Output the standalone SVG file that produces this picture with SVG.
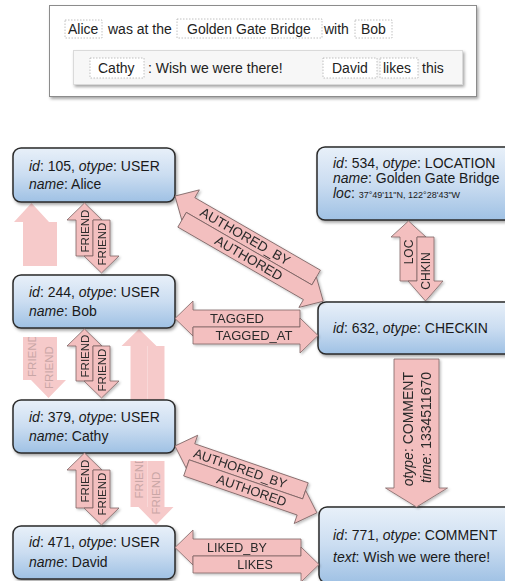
<svg xmlns="http://www.w3.org/2000/svg" width="505" height="581" viewBox="0 0 505 581">
<defs>
<linearGradient id="nodeGrad" x1="0" y1="0" x2="0" y2="1">
<stop offset="0" stop-color="#e8f0f9"/>
<stop offset="0.5" stop-color="#cbddf1"/>
<stop offset="1" stop-color="#9fc1e4"/>
</linearGradient>
<filter id="shadow" x="-10%" y="-10%" width="130%" height="140%">
<feDropShadow dx="1.5" dy="2" stdDeviation="1.5" flood-color="#000" flood-opacity="0.35"/>
</filter>
<filter id="ashadow" x="-10%" y="-10%" width="130%" height="130%">
<feDropShadow dx="1.5" dy="1.5" stdDeviation="1" flood-color="#000" flood-opacity="0.25"/>
</filter>
<clipPath id="clipFA"><rect x="0" y="200" width="80" height="66"/><rect x="0" y="337" width="80" height="64"/></clipPath>
<clipPath id="clipFB"><rect x="110" y="326" width="80" height="75"/><rect x="110" y="461" width="80" height="67"/></clipPath>
</defs>
<style>
.t{font-family:"Liberation Sans",Arial,sans-serif;fill:#222}
.nt{font-family:"Liberation Sans",Arial,sans-serif;font-size:14px;fill:#1a1a1a}
.node{fill:url(#nodeGrad);stroke:#2a2a2a;stroke-width:1.5;filter:url(#shadow)}
.arr{fill:#f3bfbf;stroke:#7d6464;stroke-width:0.8}
.fad{fill:#f6caca;stroke:none}
.al{font-family:"Liberation Sans",Arial,sans-serif;fill:#2a2a2a;text-anchor:middle;dominant-baseline:central}
.fl{font-family:"Liberation Sans",Arial,sans-serif;fill:#c9a6a6;text-anchor:middle;dominant-baseline:central;font-size:11.5px}
.box{fill:#fff;stroke:#b0b0b0;stroke-width:0.8;stroke-dasharray:1.5 1.5}
</style>

<g id="story">
<rect x="49.5" y="5.5" width="427" height="91" fill="#fff" stroke="#8c8c8c" stroke-width="1" filter="url(#shadow)"/>
<rect x="73.5" y="50.5" width="389" height="34" fill="#f7f7f7" stroke="#dadada" stroke-width="1" filter="url(#shadow)"/>
<rect class="box" x="65" y="20" width="37" height="18"/>
<rect class="box" x="177" y="19" width="145" height="19"/>
<rect class="box" x="355" y="20" width="37" height="18"/>
<rect class="box" x="90" y="58" width="54" height="20"/>
<rect class="box" x="323" y="58" width="54" height="20"/>
<rect class="box" x="380" y="58" width="38" height="20"/>
<text class="t" font-size="14" x="68" y="34">Alice</text>
<text class="t" font-size="14" x="108" y="34">was at the</text>
<text class="t" font-size="14" x="187" y="34">Golden Gate Bridge</text>
<text class="t" font-size="14" x="324" y="34">with</text>
<text class="t" font-size="14" x="361" y="34">Bob</text>
<text class="t" font-size="14" x="98" y="73">Cathy</text>
<text class="t" font-size="14" x="148" y="73">: Wish we were there!</text>
<text class="t" font-size="14" x="332" y="73">David</text>
<text class="t" font-size="14" x="383" y="73">likes</text>
<text class="t" font-size="14" x="422" y="73">this</text>
</g>

<g id="connectors-faded">
<g clip-path="url(#clipFA)">
<path class="fad" d="M31.5,203 L49,222 L40,222 L40,380 L23,380 L23,222 L14,222 Z"/>
<path class="fad" d="M40,222 L57,222 L57,380 L66,380 L48.5,398 L31,380 L40,380 Z"/>
<text class="fl" transform="translate(31.5,355.5) rotate(-90)">FRIEND</text>
<text class="fl" transform="translate(48.5,367.5) rotate(-90)">FRIEND</text>
</g>
<g clip-path="url(#clipFB)">
<path class="fad" d="M139,329 L156.5,346 L147.5,346 L147.5,507 L130.5,507 L130.5,346 L121.5,346 Z"/>
<path class="fad" d="M147.5,346 L164.5,346 L164.5,507 L173.5,507 L156,525 L138.5,507 L147.5,507 Z"/>
<text class="fl" transform="translate(139,477) rotate(-90)">FRIEND</text>
<text class="fl" transform="translate(156,493) rotate(-90)">FRIEND</text>
</g>
</g>

<g id="alice">
<rect class="node" x="13" y="148" width="162" height="54" rx="8"/>
<text class="nt" x="29" y="171"><tspan font-style="italic">id</tspan>: 105, <tspan font-style="italic">otype</tspan>: USER</text>
<text class="nt" x="29" y="189"><tspan font-style="italic">name</tspan>: Alice</text>
</g>
<g id="bob">
<rect class="node" x="13" y="275" width="162" height="53" rx="8"/>
<text class="nt" x="29" y="297"><tspan font-style="italic">id</tspan>: 244, <tspan font-style="italic">otype</tspan>: USER</text>
<text class="nt" x="29" y="316"><tspan font-style="italic">name</tspan>: Bob</text>
</g>
<g id="cathy">
<rect class="node" x="13" y="400" width="162" height="53" rx="8"/>
<text class="nt" x="29" y="422"><tspan font-style="italic">id</tspan>: 379, <tspan font-style="italic">otype</tspan>: USER</text>
<text class="nt" x="29" y="441"><tspan font-style="italic">name</tspan>: Cathy</text>
</g>
<g id="david">
<rect class="node" x="13" y="526" width="162" height="53" rx="8"/>
<text class="nt" x="29" y="547"><tspan font-style="italic">id</tspan>: 471, <tspan font-style="italic">otype</tspan>: USER</text>
<text class="nt" x="29" y="567"><tspan font-style="italic">name</tspan>: David</text>
</g>
<g id="location">
<rect class="node" x="317" y="147" width="196" height="73" rx="8"/>
<text class="nt" x="333" y="168"><tspan font-style="italic">id</tspan>: 534, <tspan font-style="italic">otype</tspan>: LOCATION</text>
<text class="nt" x="333" y="183"><tspan font-style="italic">name</tspan>: Golden Gate Bridge</text>
<text class="nt" x="333" y="198"><tspan font-style="italic">loc</tspan>: <tspan font-size="9">37°49'11"N, 122°28'43"W</tspan></text>
</g>
<g id="checkin">
<rect class="node" x="318" y="302" width="196" height="52" rx="8"/>
<text class="nt" x="333" y="333"><tspan font-style="italic">id</tspan>: 632, <tspan font-style="italic">otype</tspan>: CHECKIN</text>
</g>
<g id="comment">
<rect class="node" x="319" y="507" width="196" height="76" rx="8"/>
<text class="nt" x="333" y="540"><tspan font-style="italic">id</tspan>: 771, <tspan font-style="italic">otype</tspan>: COMMENT</text>
<text class="nt" x="333" y="562"><tspan font-style="italic">text</tspan>: Wish we were there!</text>
</g>

<g id="connectors" filter="url(#ashadow)">
<!-- FRIEND Alice-Bob -->
<path class="arr" d="M84.5,203 L102,220 L93,220 L93,256 L76,256 L76,220 L67,220 Z"/>
<path class="arr" d="M93,220 L110,220 L110,256 L119,256 L101.5,273 L84,256 L93,256 Z"/>
<text class="al" font-size="11.5" transform="translate(84.5,231) rotate(-90)">FRIEND</text>
<text class="al" font-size="11.5" transform="translate(101.5,244) rotate(-90)">FRIEND</text>
<!-- FRIEND Bob-Cathy -->
<path class="arr" d="M84.5,329 L102,346 L93,346 L93,381 L76,381 L76,346 L67,346 Z"/>
<path class="arr" d="M93,346 L110,346 L110,381 L119,381 L101.5,398 L84,381 L93,381 Z"/>
<text class="al" font-size="11.5" transform="translate(84.5,356) rotate(-90)">FRIEND</text>
<text class="al" font-size="11.5" transform="translate(101.5,370) rotate(-90)">FRIEND</text>
<!-- FRIEND Cathy-David -->
<path class="arr" d="M84.5,453 L102,470 L93,470 L93,508 L76,508 L76,470 L67,470 Z"/>
<path class="arr" d="M93,470 L110,470 L110,508 L119,508 L101.5,525 L84,508 L93,508 Z"/>
<text class="al" font-size="11.5" transform="translate(84.5,481) rotate(-90)">FRIEND</text>
<text class="al" font-size="11.5" transform="translate(101.5,494) rotate(-90)">FRIEND</text>
<!-- LOC / CHKIN -->
<path class="arr" d="M408.5,221 L426,237 L417,237 L417,281 L400,281 L400,237 L391,237 Z"/>
<path class="arr" d="M417,237 L434,237 L434,281 L443,281 L425.5,301 L408,281 L417,281 Z"/>
<text class="al" font-size="12" transform="translate(408.5,252) rotate(-90)">LOC</text>
<text class="al" font-size="12" transform="translate(425.5,271) rotate(-90)">CHKIN</text>
<!-- TAGGED -->
<path class="arr" d="M175,318.5 L193,301 L193,310 L300,310 L300,327 L193,327 L193,336 Z"/>
<path class="arr" d="M318,335.5 L300,353 L300,344 L193,344 L193,327 L300,327 L300,318 Z"/>
<text class="al" font-size="13" x="237" y="318.5">TAGGED</text>
<text class="al" font-size="13" x="254" y="335.5">TAGGED_AT</text>
<!-- LIKED_BY / LIKES -->
<path class="arr" d="M175,547.5 L193,530 L193,539 L301,539 L301,556 L193,556 L193,565 Z"/>
<path class="arr" d="M319,564.5 L301,582 L301,573 L193,573 L193,556 L301,556 L301,547 Z"/>
<text class="al" font-size="12.5" x="237" y="547.5">LIKED_BY</text>
<text class="al" font-size="12.5" x="255" y="564.5">LIKES</text>
<!-- AUTHORED Alice-Checkin -->
<g transform="translate(170.75,203.4) rotate(30)">
<path class="arr" d="M0,-8.5 L18,-26 L18,-17 L163,-17 L163,0 L18,0 L18,9 Z"/>
<path class="arr" d="M181,8.5 L163,26 L163,17 L18,17 L18,0 L163,0 L163,-9 Z"/>
<text class="al" font-size="13.5" x="81" y="-8.5">AUTHORED_BY</text>
<text class="al" font-size="13.5" x="95" y="8.5">AUTHORED</text>
</g>
<!-- AUTHORED Cathy-Comment -->
<g transform="translate(172.2,454) rotate(19)">
<path class="arr" d="M0,-8.5 L18,-26 L18,-17 L138,-17 L138,0 L18,0 L18,9 Z"/>
<path class="arr" d="M156,8.5 L138,26 L138,17 L18,17 L18,0 L138,0 L138,-9 Z"/>
<text class="al" font-size="13" x="69" y="-8.5">AUTHORED_BY</text>
<text class="al" font-size="13" x="87" y="8.5">AUTHORED</text>
</g>
<!-- COMMENT Checkin-Comment -->
<path class="arr" d="M394,359 L439,359 L439,488 L447.5,488 L416.5,507 L385.5,488 L394,488 Z"/>
<text class="al" font-size="14" text-anchor="end" style="text-anchor:end" transform="translate(408,372) rotate(-90)"><tspan font-style="italic">otype</tspan>: COMMENT</text>
<text class="al" font-size="14" style="text-anchor:end" transform="translate(426,372) rotate(-90)"><tspan font-style="italic">time</tspan>: 1334511670</text>
</g>
</svg>
